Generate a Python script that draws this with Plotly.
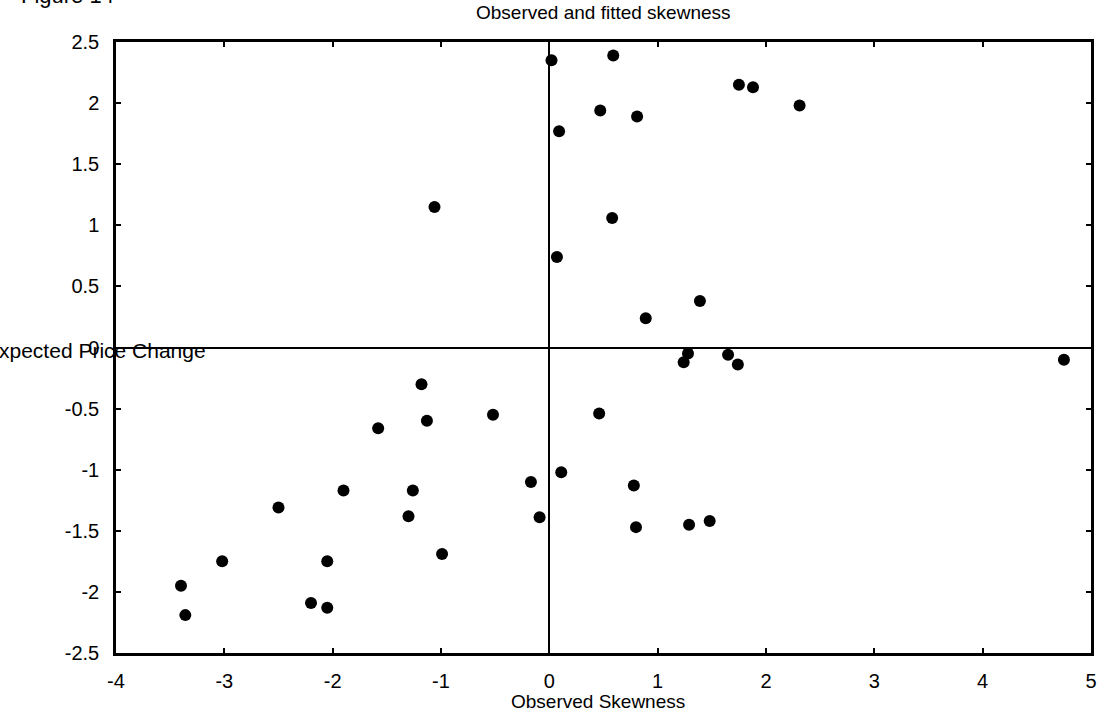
import plotly.graph_objects as go

# Data
observed_skewness = [0.02, 0.59, 1.75, 1.88, 2.31, 0.47, 0.81, 0.09, -1.06, 0.58, 0.07, 1.39, 0.89,
                     1.28, 1.24, 1.65, 1.74, 4.75,
                     -1.18, 0.46, -1.13, -1.58, -0.52,
                     0.11, -0.17, 0.78, -0.09, 0.80, 1.29, 1.48,
                     -1.90, -1.26, -2.50, -1.30, -0.99, -3.02, -2.05, -3.40, -3.36, -2.20, -2.05]
expected_price_change = [2.35, 2.39, 2.15, 2.13, 1.98, 1.94, 1.89, 1.77, 1.15, 1.06, 0.74, 0.38, 0.24,
                         -0.05, -0.12, -0.06, -0.14, -0.10,
                         -0.30, -0.54, -0.60, -0.66, -0.55,
                         -1.02, -1.10, -1.13, -1.39, -1.47, -1.45, -1.42,
                         -1.17, -1.17, -1.31, -1.38, -1.69, -1.75, -1.75, -1.95, -2.19, -2.09, -2.13]

x_ticks = [-4, -3, -2, -1, 0, 1, 2, 3, 4, 5]
y_ticks = [-2.5, -2, -1.5, -1, -0.5, 0, 0.5, 1, 1.5, 2, 2.5]

FONT = "Liberation Sans, Arial, sans-serif"

fig = go.Figure()
fig.add_trace(go.Scatter(
    x=observed_skewness, y=expected_price_change, mode="markers",
    marker=dict(symbol="circle", size=12, color="black", line=dict(width=0)),
    showlegend=False, hoverinfo="x+y"))

axis_common = dict(
    showgrid=False, showline=True, linecolor="black", linewidth=2.5, mirror="ticks",
    ticks="inside", ticklen=5, tickwidth=2, tickcolor="black",
    zeroline=True, zerolinecolor="black", zerolinewidth=2,
    tickfont=dict(family=FONT, size=20, color="black"),
)

fig.update_xaxes(range=[-4, 5], tickvals=x_ticks, ticktext=[str(v) for v in x_ticks],
                 ticklabelstandoff=8, **axis_common)
fig.update_yaxes(range=[-2.5, 2.5], tickvals=y_ticks,
                 ticktext=[("%g" % v) for v in y_ticks], ticklabelstandoff=10, **axis_common)

fig.update_layout(
    width=1109, height=717,
    margin=dict(l=116, r=13, t=42, b=64),
    paper_bgcolor="white", plot_bgcolor="white",
    font=dict(family=FONT, color="black"),
    annotations=[
        dict(text="Observed and fitted skewness", xref="paper", yref="paper",
             x=0.5, y=1.0, xanchor="center", yanchor="bottom", yshift=17,
             showarrow=False, font=dict(family=FONT, size=19, color="black")),
        dict(text="Observed Skewness", xref="paper", yref="paper",
             x=0.494, y=0, xanchor="center", yanchor="top", yshift=-36,
             showarrow=False, font=dict(family=FONT, size=19, color="black")),
        dict(text="Expected Price Change", xref="paper", yref="y",
             x=0.094, y=0, xanchor="right", yanchor="middle", yshift=-3,
             showarrow=False, font=dict(family=FONT, size=21, color="black")),
        dict(text="Figure 14", xref="paper", yref="paper",
             x=0.0, y=1.0, xanchor="right", yanchor="bottom", yshift=32,
             showarrow=False, font=dict(family=FONT, size=22, color="black")),
    ],
)

fig.write_html("out.html", config={"displayModeBar": False},
               post_script="document.body.style.margin='0';")
